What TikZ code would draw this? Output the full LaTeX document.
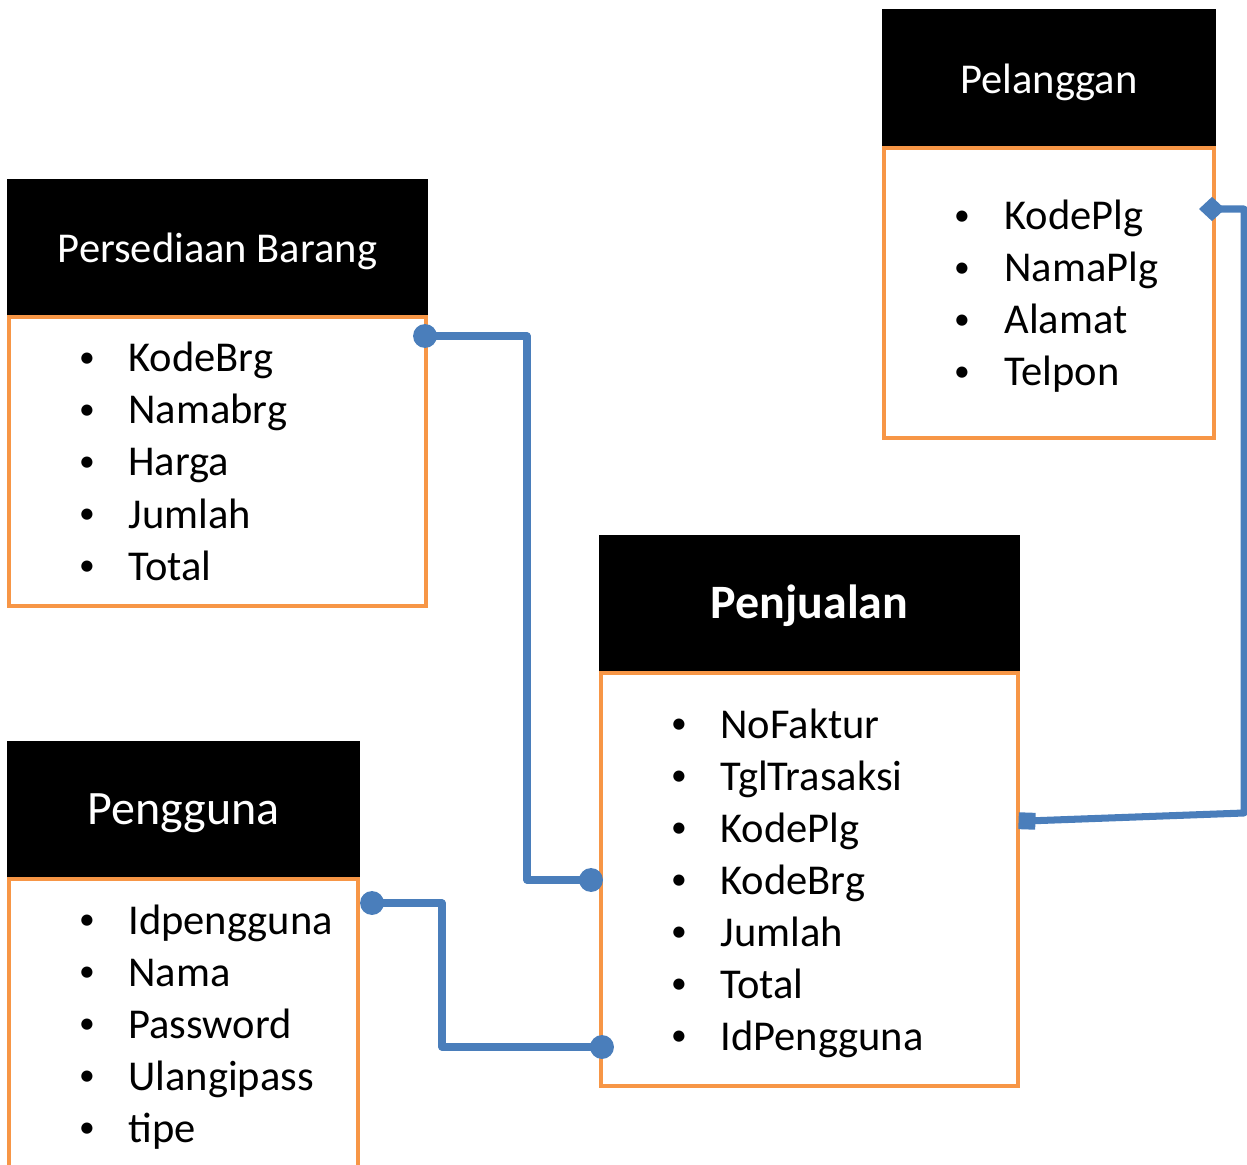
\documentclass[tikz,border=0pt]{standalone}
\usepackage{fontspec}
\setmainfont{Carlito}
\usetikzlibrary{arrows.meta,positioning,calc,shapes.geometric}
\definecolor{tblorange}{HTML}{F79646}
\definecolor{linkblue}{HTML}{4A7EBB}
\tikzset{
    every picture/.style={line width=0.5pt},
    tblhead/.style={rectangle,fill=black,text=white,anchor=north west,inner sep=0pt,outer sep=0pt,
        text height=17.5pt,text depth=0pt,font=\fontsize{24.2}{28}\selectfont},
    bighead/.style={font=\fontsize{27.3}{32}\selectfont},
    boldhead/.style={font=\fontsize{27.3}{32}\selectfont\bfseries},
    tblbody/.style={rectangle,draw=tblorange,line width=2.3pt,anchor=north west,inner sep=0pt,outer sep=0pt},
    field/.style={anchor=base west,inner sep=0pt,font=\fontsize{24.2}{28}\selectfont},
    bul/.style={anchor=base,inner sep=0pt,yshift=2.3pt,font=\fontsize{18}{20}\selectfont},
    link/.style={draw=linkblue,line width=4pt,line join=round},
    dot/.style={circle,fill=linkblue,minimum size=13.6pt,inner sep=0pt}
}
\begin{document}
\begin{tikzpicture}[x=0.02cm,y=-0.02cm]
    \useasboundingbox (0,0) rectangle (1247,1165);
    \clip (0,0) rectangle (1247,1165);

    % Persediaan Barang
    \node[tblhead,minimum width=8.42cm,minimum height=2.74cm] (brgHead) at (7,179) {Persediaan Barang};
    \node[tblbody,minimum width=8.34cm,minimum height=5.78cm] (brgBody) at (9,317) {};
    \foreach \t [count=\i] in {KodeBrg,Namabrg,Harga,Jumlah,Total} {
        \node[bul] at (87,{320+52*\i}) {\textbullet};
        \node[field] (brg\i) at (128,{320+52*\i}) {\t};
    }

    % Pengguna
    \node[tblhead,bighead,minimum width=7.06cm,minimum height=2.74cm] (userHead) at (7,741) {Pengguna};
    \node[tblbody,minimum width=6.98cm,minimum height=8cm] (userBody) at (9,879) {};
    \foreach \t [count=\i] in {Idpengguna,Nama,Password,Ulangipass,tipe} {
        \node[bul] at (87,{882+52*\i}) {\textbullet};
        \node[field] (user\i) at (128,{882+52*\i}) {\t};
    }

    % Penjualan
    \node[tblhead,boldhead,minimum width=8.42cm,minimum height=2.74cm] (jualHead) at (599,535) {Penjualan};
    \node[tblbody,minimum width=8.34cm,minimum height=8.26cm] (jualBody) at (601,673) {};
    \foreach \t [count=\i] in {NoFaktur,TglTrasaksi,KodePlg,KodeBrg,Jumlah,Total,IdPengguna} {
        \node[bul] at (679,{686+52*\i}) {\textbullet};
        \node[field] (jual\i) at (720,{686+52*\i}) {\t};
    }

    % Pelanggan
    \node[tblhead,minimum width=6.68cm,minimum height=2.76cm] (plgHead) at (882,9) {Pelanggan};
    \node[tblbody,minimum width=6.6cm,minimum height=5.8cm] (plgBody) at (884,148) {};
    \foreach \t [count=\i] in {KodePlg,NamaPlg,Alamat,Telpon} {
        \node[bul] at (962,{178+52*\i}) {\textbullet};
        \node[field] (plg\i) at (1004,{178+52*\i}) {\t};
    }

    % relasi
    \node[dot] (brgDot) at (425,336) {};
    \node[dot] (jualDotB) at (591,880) {};
    \node[dot] (userDot) at (372,903) {};
    \node[dot] (jualDotC) at (602,1047) {};
    \node[diamond,fill=linkblue,minimum width=15pt,minimum height=14pt,inner sep=0pt] (plgDia) at (1212,209) {};
    \node[rectangle,fill=linkblue,minimum size=9.6pt,inner sep=0pt,rotate=-2] (jualSq) at (1027,821) {};

    \draw[link] (brgDot.center) -| ($(jualDotB)+(-64,0)$) -- (jualDotB.center);
    \draw[link] (userDot.center) -| ($(jualDotC)+(-160,0)$) -- (jualDotC.center);
    \draw[link] (plgDia.center) -| ($(jualSq)+(217,-8)$) -- (jualSq.center);
\end{tikzpicture}
\end{document}
